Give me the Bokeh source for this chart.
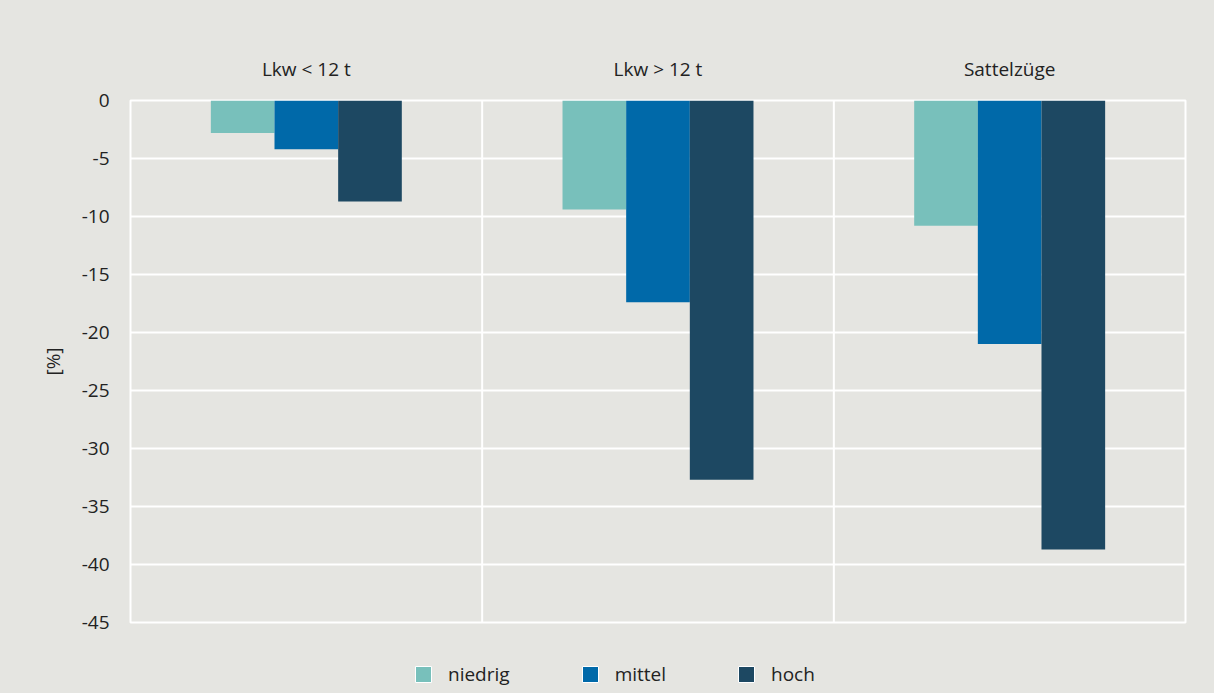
from bokeh.plotting import figure
from bokeh.layouts import column
from bokeh.models import (Range1d, FactorRange, FixedTicker, ColumnDataSource,
                          Legend, LegendItem, Span, CustomJSTickFormatter)
from bokeh.transform import dodge
from bokeh.embed import file_html
from bokeh.resources import INLINE

# ---- data ----
categories = ["Lkw < 12 t", "Lkw > 12 t", "Sattelzüge"]
series = ["niedrig", "mittel", "hoch"]
niedrig = [-2.8, -9.4, -10.8]
mittel = [-4.2, -17.4, -21.0]
hoch = [-8.7, -32.7, -38.7]
y_ticks = [0, -5, -10, -15, -20, -25, -30, -35, -40, -45]
y_label = "[%]"

# ---- style ----
colors = ["#78c0bb", "#0069a9", "#1d4862"]
BG = "#e5e5e1"
FONT = "Open Sans"
TXT = "#222222"
FS = "19px"
W = 1214
H_MAIN, H_LEG = 645, 48
BAR_W = 0.181

src = ColumnDataSource(dict(cat=categories, niedrig=niedrig, mittel=mittel, hoch=hoch))
offsets = [-BAR_W, 0, BAR_W]

p = figure(width=W, height=H_MAIN,
           x_range=FactorRange(*categories, range_padding=0),
           y_range=Range1d(-45, 0),
           x_axis_location="above",
           output_backend="svg", toolbar_location=None,
           min_border_left=130, min_border_right=29,
           min_border_top=100, min_border_bottom=23)

p.background_fill_color = BG
p.border_fill_color = BG
p.outline_line_color = "white"
p.outline_line_width = 2

for s, c, o in zip(series, colors, offsets):
    p.vbar(x=dodge("cat", o, range=p.x_range), top=s, bottom=0, width=BAR_W,
           source=src, fill_color=c, line_color=None)

# category separators
for loc in range(1, len(categories)):
    p.add_layout(Span(location=loc, dimension="height", line_color="white",
                      line_width=2, level="underlay"))

# grids
p.xgrid.visible = False
p.ygrid.grid_line_color = "white"
p.ygrid.grid_line_width = 2
p.ygrid.ticker = FixedTicker(ticks=y_ticks)

# y axis
ya = p.yaxis[0]
ya.ticker = FixedTicker(ticks=y_ticks)
ya.formatter = CustomJSTickFormatter(code="return tick.toString();")
ya.axis_line_color = None
ya.major_tick_line_color = None
ya.minor_tick_line_color = None
ya.major_label_standoff = 15
ya.major_label_text_font = FONT
ya.major_label_text_font_size = FS
ya.major_label_text_color = TXT
ya.axis_label = y_label
ya.axis_label_text_font = FONT
ya.axis_label_text_font_size = FS
ya.axis_label_text_font_style = "normal"
ya.axis_label_text_color = TXT
ya.axis_label_standoff = 13

# top category axis
xa = p.xaxis[0]
xa.axis_line_color = None
xa.major_tick_line_color = None
xa.minor_tick_line_color = None
xa.major_label_standoff = 13
xa.major_label_text_font = FONT
xa.major_label_text_font_size = FS
xa.major_label_text_color = TXT

# ---- legend strip (separate figure below) ----
pl = figure(width=W, height=H_LEG,
            x_range=FactorRange(*categories, range_padding=0),
            y_range=Range1d(0, 1),
            x_axis_location=None, y_axis_location=None,
            output_backend="svg", toolbar_location=None,
            min_border=0)
pl.background_fill_color = BG
pl.border_fill_color = BG
pl.outline_line_color = None
pl.xgrid.visible = False
pl.ygrid.visible = False

items = []
for s, c, o in zip(series, colors, offsets):
    # same bars, entirely below this strip's y-range: only used for legend glyphs
    r = pl.vbar(x=dodge("cat", o, range=pl.x_range), top=s, bottom=0, width=BAR_W,
                source=src, fill_color=c, line_color="white", line_width=1)
    items.append(LegendItem(label=s, renderers=[r]))

legend = Legend(items=items, orientation="horizontal", location=(283, 6),
                glyph_width=20, glyph_height=20, label_standoff=15, spacing=70,
                padding=0, margin=0, border_line_color=None,
                background_fill_color=None,
                label_text_font=FONT, label_text_font_size=FS,
                label_text_color=TXT)
pl.add_layout(legend, "center")

layout = column(p, pl, spacing=0)
layout.styles = {"background-color": BG}
open("out.html", "w").write(file_html(layout, INLINE))
